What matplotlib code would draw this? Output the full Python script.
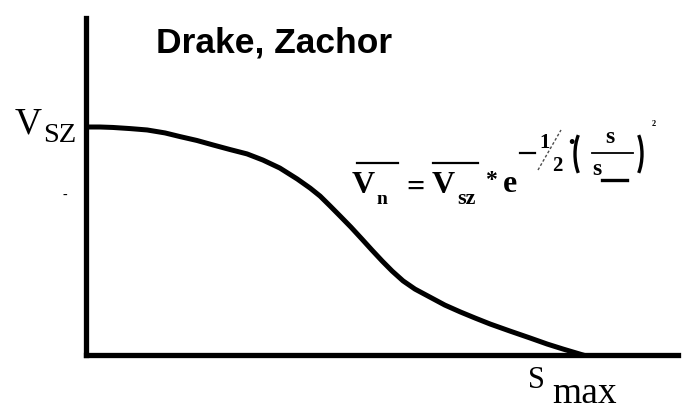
import numpy as np
import matplotlib
matplotlib.use('Agg')
import matplotlib.pyplot as plt
from matplotlib.lines import Line2D
from matplotlib.patches import Arc

# 速度衰减曲线 (Drake, Zachor)，横轴 s/s_max，纵轴 V/V_sz
s_vals = [0.0, 0.028, 0.054, 0.089, 0.123, 0.159, 0.189, 0.223, 0.256, 0.290,
          0.324, 0.356, 0.390, 0.425, 0.451, 0.471, 0.491, 0.511, 0.533, 0.555,
          0.575, 0.596, 0.616, 0.638, 0.662, 0.692, 0.722, 0.753, 0.783, 0.813,
          0.853, 0.893, 0.928, 0.960, 0.980, 1.0]
v_vals = [1.0, 1.0, 0.998, 0.993, 0.987, 0.974, 0.958, 0.941, 0.921, 0.901,
          0.882, 0.855, 0.820, 0.772, 0.732, 0.697, 0.654, 0.610, 0.561, 0.509,
          0.461, 0.412, 0.368, 0.325, 0.289, 0.254, 0.219, 0.189, 0.162, 0.136,
          0.105, 0.075, 0.048, 0.026, 0.013, 0.0]

V_SZ = 1.0
S_MAX = 1.0
y_dash_tick = 0.70

W, H = 682, 411
fig = plt.figure(figsize=(W / 100, H / 100), dpi=100)
# 坐标轴位置（像素，左上角为原点）
left, right, bottom, top = 86, 678, 355, 18
ax = fig.add_axes([left / W, (H - bottom) / H, (right - left) / W, (bottom - top) / H])

ax.plot(s_vals, v_vals, color='black', lw=3.6, solid_joinstyle='round', zorder=3)

ax.set_xlim(0, (right - left) / 497)
ax.set_ylim(0, (bottom - top) / 228)

for side in ('top', 'right'):
    ax.spines[side].set_visible(False)
for side in ('left', 'bottom'):
    ax.spines[side].set_linewidth(3.8)
ax.set_xticks([])
ax.set_yticks([])

serif = 'Liberation Serif'


def px(x, y):
    """像素坐标 -> figure 坐标"""
    return x / W, 1 - y / H


def ptext(x, y, s, size, weight='normal', ha='left', va='baseline', **kw):
    fig.text(*px(x, y), s, fontsize=size, fontweight=weight, family=serif,
             ha=ha, va=va, **kw)


def pline(x0, y0, x1, y1, lw, **kw):
    fig.add_artist(Line2D([x0 / W, x1 / W], [1 - y0 / H, 1 - y1 / H],
                          transform=fig.transFigure, color='black', lw=lw, **kw))


# 纵轴标注 V_SZ
ax.annotate('V', xy=(0, V_SZ), xytext=(-71, -6), textcoords='offset pixels',
            ha='left', va='baseline', fontsize=27, family=serif, annotation_clip=False)
ax.annotate('SZ', xy=(0, V_SZ), xytext=(-43, -15), textcoords='offset pixels',
            ha='left', va='baseline', fontsize=20.5, family=serif, annotation_clip=False)
ax.annotate('-', xy=(0, y_dash_tick), xytext=(-21, 0), textcoords='offset pixels',
            ha='center', va='center', fontsize=10, family=serif, annotation_clip=False)

# 横轴标注 S_max
ax.annotate('S', xy=(S_MAX, 0), xytext=(-55, -33), textcoords='offset pixels',
            ha='left', va='baseline', fontsize=22, family=serif, annotation_clip=False)
ax.annotate('max', xy=(S_MAX, 0), xytext=(-31, -48), textcoords='offset pixels',
            ha='left', va='baseline', fontsize=27, family=serif, annotation_clip=False)

# 标题
fig.text(*px(156, 53), 'Drake, Zachor', fontsize=25.5, fontweight='bold',
         family='Liberation Sans', ha='left', va='baseline')

# 公式  V_n = V_sz * e^(-1/2 (s/s_max)^2)
ptext(352, 193, 'V', 23, 'bold')
ptext(377, 204, 'n', 14, 'bold')
pline(357, 163, 398, 163, 1.6)
ptext(416, 188, '=', 23, 'bold', ha='center', va='center')
ptext(432, 193, 'V', 23, 'bold')
ptext(457, 204, 'sz', 16, 'bold')
pline(433, 163, 478, 163, 1.6)
ptext(491, 180, '*', 17, 'bold', ha='center', va='center')
ptext(503, 192, 'e', 23, 'bold')
pline(520, 153, 535, 153, 1.6)
ptext(539, 148, '1', 15, 'bold')
pline(538, 170, 561, 130, 1.0, ls=(0, (2, 1.5)), alpha=0.7)
ptext(552, 171, '2', 15, 'bold')
ptext(571, 143, '\u2022', 13, 'bold', ha='center', va='center')
fig.add_artist(Arc(px(591, 154), 32 / W, 62 / H, theta1=112, theta2=248,
                   transform=fig.transFigure, lw=2.4, color='black'))
ptext(605, 143, 's', 17, 'bold')
pline(592, 153, 633, 153, 1.3)
ptext(592, 175, 's', 17, 'bold')
pline(602, 180, 627, 180, 2.4)
fig.add_artist(Arc(px(626, 154), 32 / W, 62 / H, theta1=-68, theta2=68,
                   transform=fig.transFigure, lw=2.4, color='black'))
ptext(652, 126, '2', 6, 'bold')

fig.savefig('out.png', dpi=100)
